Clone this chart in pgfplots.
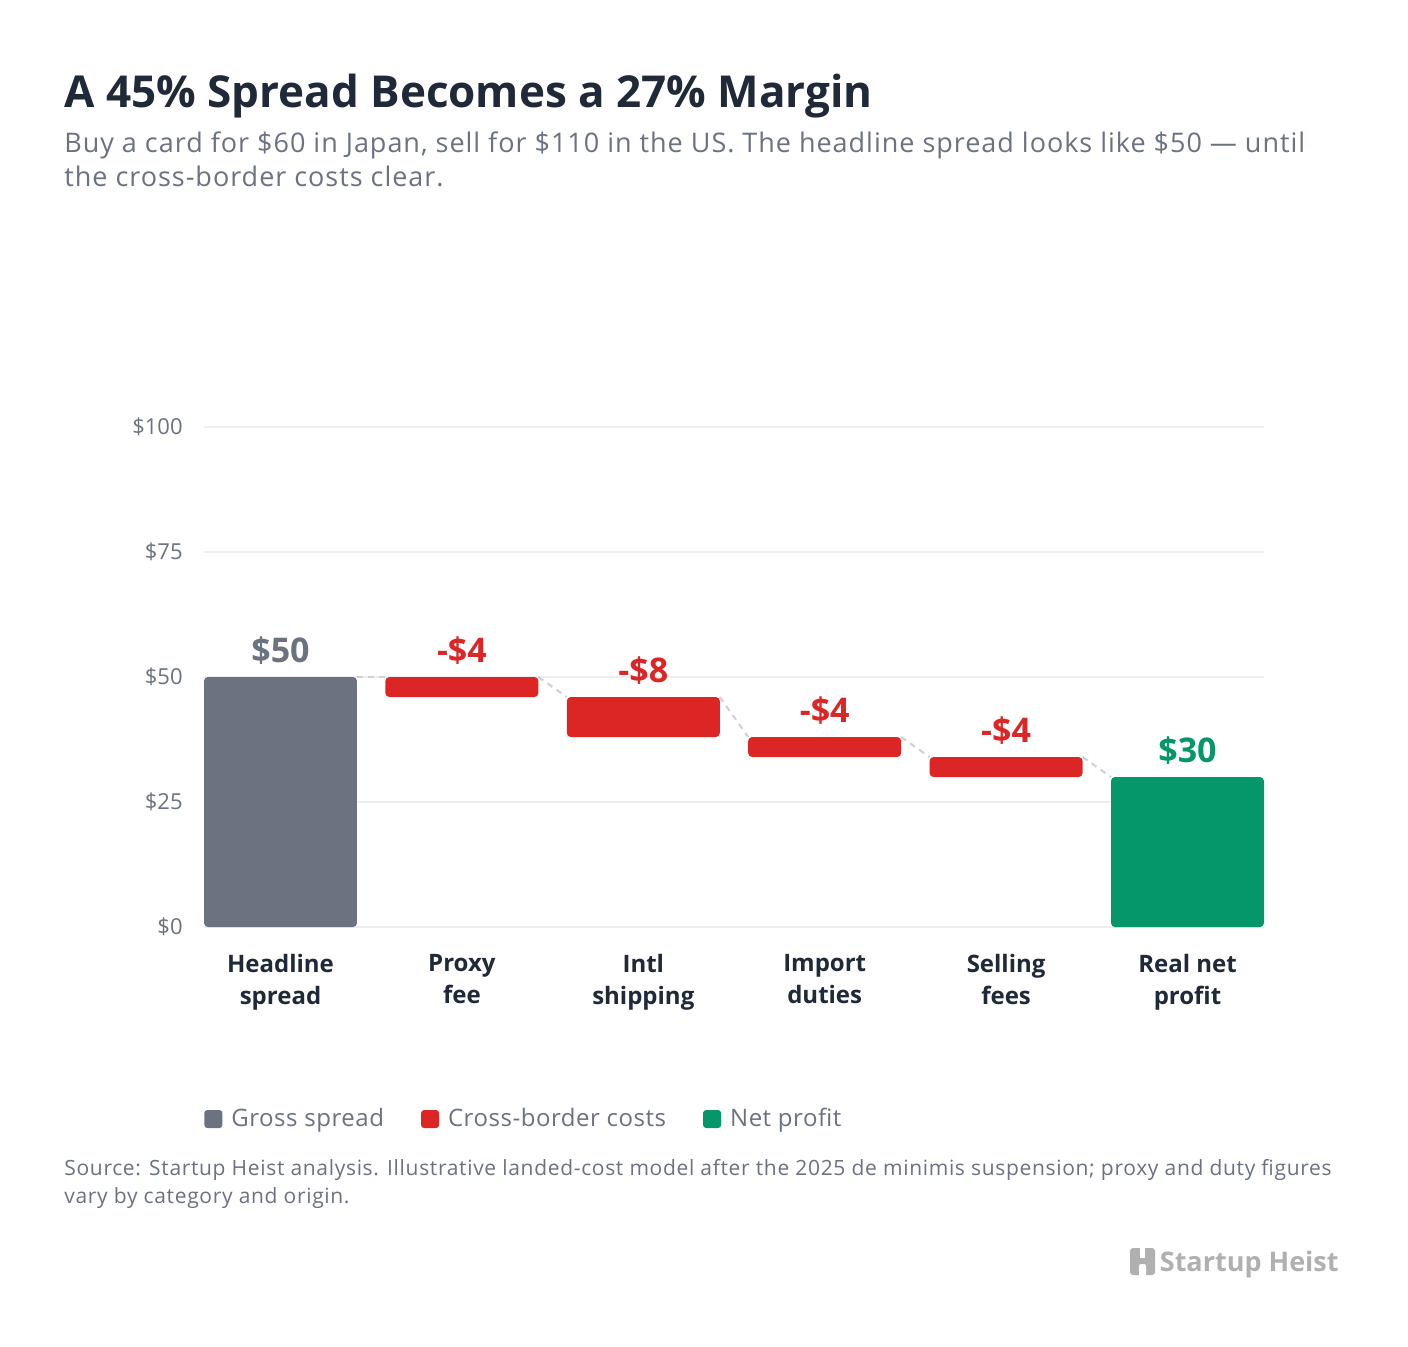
\documentclass[border=0pt]{standalone}
\usepackage{pgfplots}
\pgfplotsset{compat=1.18}
\usepackage{pgfplotstable}
\usepackage{fontspec}
\setmainfont{Open Sans}
\definecolor{titlec}{HTML}{1F2937}
\definecolor{subc}{HTML}{6B7280}
\definecolor{grossc}{HTML}{6B7280}
\definecolor{costc}{HTML}{DC2626}
\definecolor{netc}{HTML}{059669}
\definecolor{gridc}{HTML}{EEEEEE}
\definecolor{dashc}{HTML}{CDD1D7}
\definecolor{logoc}{HTML}{B0B0B0}

\pgfplotstableread{
x base gross cost net
0 0  50 0 0
1 46 0  4 0
2 38 0  8 0
3 34 0  4 0
4 30 0  4 0
5 0  0  0 30
}\wfdata

\begin{document}
\begin{tikzpicture}
\fill[white] (0,0) rectangle (704pt,-673pt);
% titles
\node[anchor=base west, inner sep=0pt, text=titlec, font=\fontsize{22}{28}\selectfont\bfseries] at (32pt,-53.5pt) {A 45\% Spread Becomes a 27\% Margin};
\node[anchor=base west, inner sep=0pt, text=subc, font=\fontsize{13.5}{17}\selectfont\addfontfeature{LetterSpace=3.6}] at (32pt,-76pt) {Buy a card for \$60 in Japan, sell for \$110 in the US. The headline spread looks like \$50 — until};
\node[anchor=base west, inner sep=0pt, text=subc, font=\fontsize{13.5}{17}\selectfont\addfontfeature{LetterSpace=3.6}] at (32pt,-93pt) {the cross-border costs clear.};

\begin{axis}[
  at={(102pt,-463.5pt)}, anchor=south west,
  scale only axis, width=530pt, height=250pt,
  xmin=-0.4217, xmax=5.4217, ymin=0, ymax=100,
  ybar stacked, bar width=0.8434,
  axis line style={draw=none},
  major tick length=0pt,
  ymajorgrids, grid style={gridc, line width=0.8pt},
  ytick={0,25,50,75,100},
  yticklabels={\$0,\$25,\$50,\$75,\$100},
  yticklabel style={font=\fontsize{11}{13}\selectfont, text=subc, inner sep=0pt, anchor=east, xshift=-10.5pt},
  xtick={0,1,2,3,4,5},
  xticklabels={{Headline\\spread},{Proxy\\fee},{Intl\\shipping},{Import\\duties},{Selling\\fees},{Real net\\profit}},
  xticklabel style={font=\fontsize{12}{16}\selectfont\bfseries, text=titlec, align=center, inner sep=0pt, anchor=north, yshift=-13.5pt},
  clip=false,
  legend style={at={(0,0)}, anchor=west, yshift=-96pt, draw=none, fill=none, inner sep=0pt,
    font=\fontsize{12}{14}\selectfont\addfontfeature{LetterSpace=2.2}, text=subc, nodes={inner sep=0pt},
    /tikz/every odd column/.append style={column sep=4.5pt},
    /tikz/every even column/.append style={column sep=18.5pt}},
  legend columns=3,
  legend image code/.code={\fill[#1, draw=none, rounded corners=1.5pt] (0pt,-4.5pt) rectangle (9pt,4.5pt);},
]
\addplot[draw=none, fill=none, forget plot] table[x=x, y=base] {\wfdata};
\addplot[draw=none, fill=grossc, rounded corners=2pt] table[x=x, y=gross] {\wfdata};
\addlegendentry{Gross spread}
\addplot[draw=none, fill=costc, rounded corners=2pt] table[x=x, y=cost] {\wfdata};
\addlegendentry{Cross-border costs}
\addplot[draw=none, fill=netc, rounded corners=2pt] table[x=x, y=net] {\wfdata};
\addlegendentry{Net profit}
\end{axis}

\begin{axis}[
  at={(102pt,-463.5pt)}, anchor=south west,
  scale only axis, width=530pt, height=250pt,
  xmin=-0.4217, xmax=5.4217, ymin=0, ymax=100,
  hide axis, clip=false,
]
\addplot[dashc, line width=1pt, dash pattern=on 3pt off 2.5pt, mark=none] coordinates {(0.4217,50) (0.5783,50)};
\addplot[dashc, line width=1pt, dash pattern=on 3pt off 2.5pt, mark=none] coordinates {(1.4217,50) (1.5783,46)};
\addplot[dashc, line width=1pt, dash pattern=on 3pt off 2.5pt, mark=none] coordinates {(2.4217,46) (2.5783,38)};
\addplot[dashc, line width=1pt, dash pattern=on 3pt off 2.5pt, mark=none] coordinates {(3.4217,38) (3.5783,34)};
\addplot[dashc, line width=1pt, dash pattern=on 3pt off 2.5pt, mark=none] coordinates {(4.4217,34) (4.5783,30)};
\node[anchor=base, text=grossc, font=\fontsize{17}{20}\selectfont\bfseries, yshift=7.5pt] at (axis cs:0,50) {\$50};
\node[anchor=base, text=costc, font=\fontsize{17}{20}\selectfont\bfseries, yshift=7.5pt] at (axis cs:1,50) {-\$4};
\node[anchor=base, text=costc, font=\fontsize{17}{20}\selectfont\bfseries, yshift=7.5pt] at (axis cs:2,46) {-\$8};
\node[anchor=base, text=costc, font=\fontsize{17}{20}\selectfont\bfseries, yshift=7.5pt] at (axis cs:3,38) {-\$4};
\node[anchor=base, text=costc, font=\fontsize{17}{20}\selectfont\bfseries, yshift=7.5pt] at (axis cs:4,34) {-\$4};
\node[anchor=base, text=netc, font=\fontsize{17}{20}\selectfont\bfseries, yshift=7.5pt] at (axis cs:5,30) {\$30};
\end{axis}

% source
\node[anchor=base west, inner sep=0pt, text=subc, font=\fontsize{10.5}{12}\selectfont\addfontfeature{LetterSpace=3.2}] at (32pt,-587.5pt) {Source: Startup Heist analysis. Illustrative landed-cost model after the 2025 de minimis suspension; proxy and duty figures};
\node[anchor=base west, inner sep=0pt, text=subc, font=\fontsize{10.5}{12}\selectfont\addfontfeature{LetterSpace=3.2}] at (32pt,-601.5pt) {vary by category and origin.};
% logo
\fill[logoc, rounded corners=1.5pt] (565pt,-624pt) rectangle (577.5pt,-637.5pt);
\fill[white] (570pt,-623pt) rectangle (572.5pt,-629pt);
\fill[white, rounded corners=1pt] (569.5pt,-632pt) rectangle (573pt,-638.5pt);
\node[anchor=base east, inner sep=0pt, text=logoc, font=\fontsize{13.5}{16}\selectfont\bfseries] at (669.5pt,-635.5pt) {Startup Heist};
\end{tikzpicture}
\end{document}
